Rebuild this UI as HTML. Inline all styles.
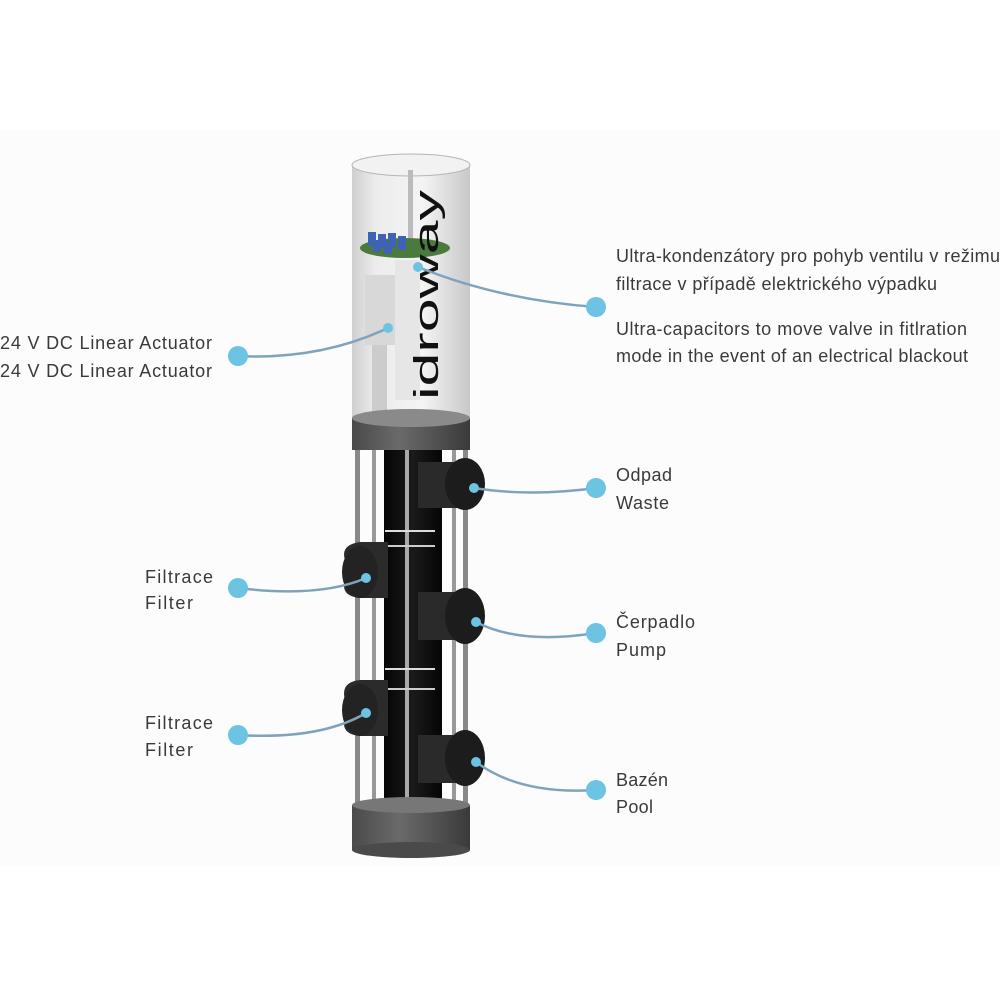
<!DOCTYPE html>
<html><head><meta charset="utf-8"><style>
html,body{margin:0;padding:0;background:#fff}
svg{display:block}
text{font-family:"Liberation Sans",sans-serif;font-size:18px;fill:#3a3a3a}
</style></head><body>
<svg width="1000" height="1000" viewBox="0 0 1000 1000" xmlns="http://www.w3.org/2000/svg">
<defs>
<linearGradient id="glass" x1="0" x2="1">
<stop offset="0" stop-color="#cfcfcf"/><stop offset="0.2" stop-color="#ececec"/><stop offset="0.6" stop-color="#f4f4f4"/><stop offset="1" stop-color="#c8c8c8"/>
</linearGradient>
<linearGradient id="gray" x1="0" x2="1">
<stop offset="0" stop-color="#4a4a4a"/><stop offset="0.4" stop-color="#6a6a6a"/><stop offset="1" stop-color="#3a3a3a"/>
</linearGradient>
<linearGradient id="blk" x1="0" x2="1">
<stop offset="0" stop-color="#050505"/><stop offset="0.5" stop-color="#1a1a1a"/><stop offset="1" stop-color="#050505"/>
</linearGradient>
</defs>
<rect x="0" y="130" width="1000" height="736" fill="#fcfcfc"/>

<!-- bottom column -->
<rect x="384" y="448" width="58" height="370" fill="url(#blk)"/>
<rect x="355" y="448" width="5" height="370" fill="#888"/>
<rect x="372" y="448" width="4" height="370" fill="#999"/>
<rect x="405" y="448" width="4" height="380" fill="#aaa"/>
<rect x="452" y="448" width="4" height="370" fill="#999"/>
<rect x="463" y="448" width="5" height="370" fill="#888"/>
<rect x="385" y="530" width="50" height="2" fill="#ddd"/>
<rect x="385" y="545" width="50" height="2" fill="#ccc"/>
<rect x="385" y="668" width="50" height="2" fill="#ddd"/>
<rect x="385" y="688" width="50" height="2" fill="#ccc"/>

<!-- right knobs -->
<g fill="#1c1c1c">
<rect x="418" y="462" width="40" height="46" fill="#2a2a2a"/>
<ellipse cx="465" cy="484" rx="20" ry="26"/>
<rect x="418" y="592" width="40" height="48" fill="#2a2a2a"/>
<ellipse cx="465" cy="616" rx="20" ry="28"/>
<rect x="418" y="735" width="40" height="48" fill="#2a2a2a"/>
<ellipse cx="465" cy="758" rx="20" ry="28"/>
</g>
<!-- left ports -->
<g>
<path d="M345 560 Q340 545 360 542 L388 542 L388 598 L360 598 Q340 596 345 580 Z" fill="#2b2b2b"/>
<ellipse cx="360" cy="572" rx="18" ry="26" fill="#232323"/>
<path d="M345 700 Q340 682 360 680 L388 680 L388 736 L360 736 Q340 734 345 718 Z" fill="#2b2b2b"/>
<ellipse cx="360" cy="710" rx="18" ry="26" fill="#232323"/>
</g>

<!-- bottom base -->
<rect x="352" y="805" width="118" height="45" fill="url(#gray)"/>
<ellipse cx="411" cy="850" rx="59" ry="8" fill="#4a4a4a"/>
<ellipse cx="411" cy="805" rx="59" ry="8" fill="#777"/>

<!-- glass cylinder -->
<rect x="352" y="165" width="118" height="255" fill="url(#glass)"/>
<ellipse cx="411" cy="165" rx="59" ry="11" fill="#f2f2f2" stroke="#b5b5b5"/>
<rect x="408" y="170" width="5" height="70" fill="#bbb"/>
<ellipse cx="405" cy="248" rx="45" ry="10" fill="#4b7a3f"/>
<g fill="#3e63b5"><rect x="368" y="232" width="8" height="14"/><rect x="378" y="234" width="8" height="14"/><rect x="388" y="233" width="8" height="14"/><rect x="398" y="236" width="8" height="14"/><rect x="373" y="240" width="8" height="12"/><rect x="384" y="242" width="8" height="12"/></g>
<rect x="365" y="275" width="30" height="70" fill="#d8d8d8"/>
<rect x="395" y="260" width="25" height="140" fill="#e6e6e6"/>
<rect x="372" y="345" width="15" height="70" fill="#ccc"/>
<text x="438" y="400" transform="rotate(-90 438 400)" style="font-size:34px;fill:#111" textLength="210" lengthAdjust="spacingAndGlyphs">idroway</text>
<!-- top ring -->
<rect x="352" y="418" width="118" height="32" fill="url(#gray)"/>
<ellipse cx="411" cy="418" rx="59" ry="9" fill="#8a8a8a"/>

<!-- connectors -->
<g fill="none" stroke="#7fa3bc" stroke-width="2.5">
<path d="M238 356 Q320 360 388 328"/>
<path d="M596 307 Q500 300 418 267"/>
<path d="M596 488 Q530 497 474 488"/>
<path d="M238 588 Q320 598 366 578"/>
<path d="M238 735 Q320 740 366 713"/>
<path d="M596 633 Q520 645 476 622"/>
<path d="M596 790 Q520 795 476 762"/>
</g>
<g fill="#6cc3e2">
<circle cx="238" cy="356" r="10"/><circle cx="388" cy="328" r="5"/>
<circle cx="596" cy="307" r="10"/><circle cx="418" cy="267" r="5"/>
<circle cx="596" cy="488" r="10"/><circle cx="474" cy="488" r="5"/>
<circle cx="238" cy="588" r="10"/><circle cx="366" cy="578" r="5"/>
<circle cx="238" cy="735" r="10"/><circle cx="366" cy="713" r="5"/>
<circle cx="596" cy="633" r="10"/><circle cx="476" cy="622" r="5"/>
<circle cx="596" cy="790" r="10"/><circle cx="476" cy="762" r="5"/>
</g>

<!-- labels -->
<text x="0" y="349" textLength="212">24 V DC Linear Actuator</text>
<text x="0" y="377" textLength="212">24 V DC Linear Actuator</text>
<text x="616" y="262" textLength="384">Ultra-kondenzátory pro pohyb ventilu v režimu</text>
<text x="616" y="290" textLength="321">filtrace v případě elektrického výpadku</text>
<text x="616" y="335" textLength="351">Ultra-capacitors to move valve in fitlration</text>
<text x="616" y="362" textLength="352">mode in the event of an electrical blackout</text>
<text x="616" y="481" textLength="56">Odpad</text>
<text x="616" y="509" textLength="53">Waste</text>
<text x="145" y="583" textLength="68">Filtrace</text>
<text x="145" y="609" textLength="48">Filter</text>
<text x="145" y="729" textLength="68">Filtrace</text>
<text x="145" y="756" textLength="48">Filter</text>
<text x="616" y="628" textLength="79">Čerpadlo</text>
<text x="616" y="656" textLength="50">Pump</text>
<text x="616" y="786" textLength="52">Bazén</text>
<text x="616" y="813" textLength="37">Pool</text>
</svg>
</body></html>
